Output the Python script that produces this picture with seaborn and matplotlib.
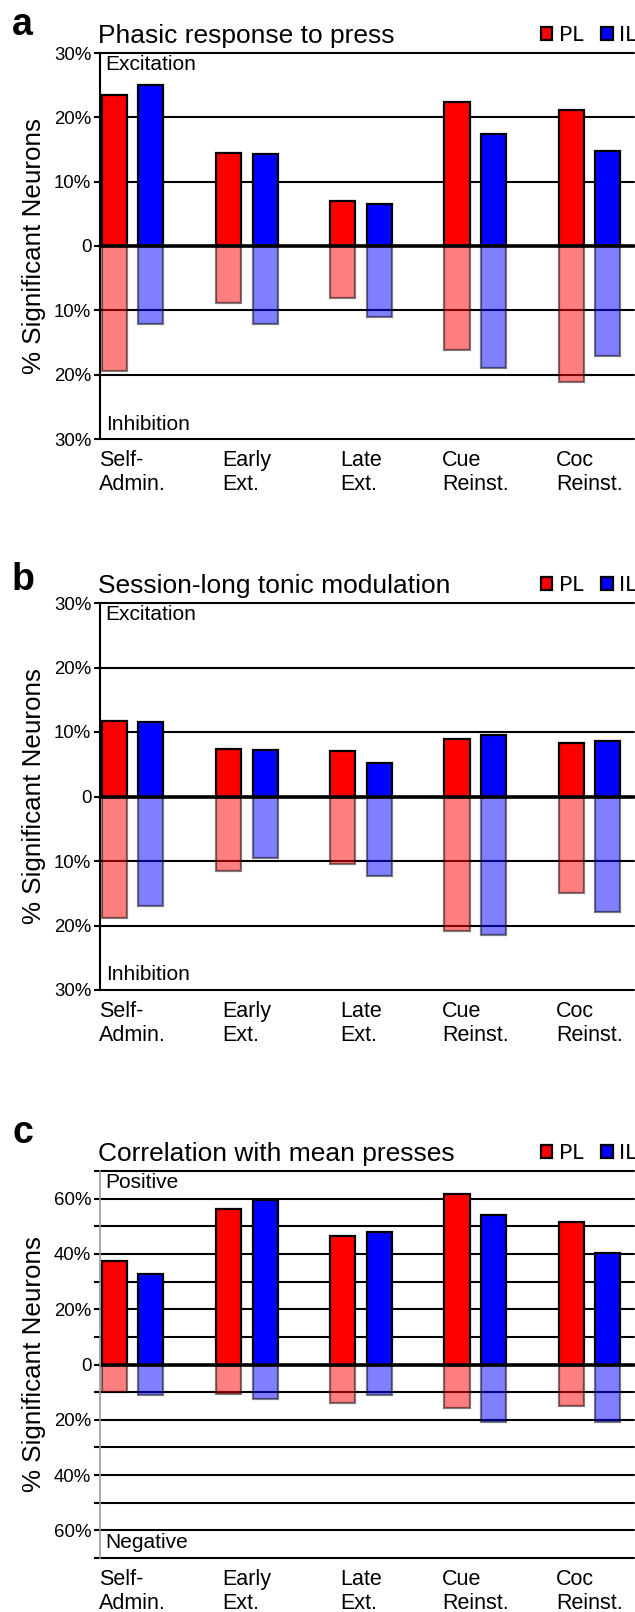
import matplotlib
matplotlib.use("Agg")
import matplotlib.pyplot as plt
from matplotlib.patches import Patch
import pandas as pd
import seaborn as sns

# ---- data (percent of significant neurons) ----
stages = ["Self-\nAdmin.", "Early\nExt.", "Late\nExt.", "Cue\nReinst.", "Coc\nReinst."]
regions = ["PL", "IL"]

phasic_exc_pl = [23.5, 14.4, 7.05, 22.45, 21.15]
phasic_exc_il = [25.0, 14.25, 6.5, 17.4, 14.8]
phasic_inh_pl = [19.4, 8.8, 8.15, 16.2, 21.1]
phasic_inh_il = [12.1, 12.1, 11.0, 19.0, 17.1]

tonic_exc_pl = [11.7, 7.4, 7.05, 8.9, 8.25]
tonic_exc_il = [11.5, 7.2, 5.25, 9.5, 8.65]
tonic_inh_pl = [18.8, 11.5, 10.5, 20.8, 14.9]
tonic_inh_il = [17.0, 9.6, 12.4, 21.5, 17.9]

corr_pos_pl = [37.3, 56.4, 46.4, 61.6, 51.4]
corr_pos_il = [32.8, 59.6, 47.8, 54.2, 40.4]
corr_neg_pl = [9.9, 10.8, 14.0, 15.8, 14.9]
corr_neg_il = [11.2, 12.5, 11.1, 20.7, 20.7]

phasic_ticks = [-30, -20, -10, 0, 10, 20, 30]
phasic_ticklabels = ["30%", "20%", "10%", "0", "10%", "20%", "30%"]
corr_ticks = [-70, -60, -50, -40, -30, -20, -10, 0, 10, 20, 30, 40, 50, 60, 70]
corr_ticklabels = ["", "60%", "", "40%", "", "20%", "", "0", "", "20%", "", "40%", "", "60%", ""]

palette = {"PL": "#FF0000", "IL": "#0000FF"}

sns.set_theme(style="white")
plt.rcParams["font.family"] = ["Liberation Sans", "DejaVu Sans"]
plt.rcParams.update({
    "text.color": "black",
    "axes.labelcolor": "black",
    "xtick.color": "black",
    "ytick.color": "black",
})

W, H = 635, 1612
fig = plt.figure(figsize=(W / 100, H / 100), dpi=100)


def long_frame(pl, il):
    return pd.DataFrame({
        "stage": stages * 2,
        "region": ["PL"] * len(stages) + ["IL"] * len(stages),
        "value": list(pl) + list(il),
    })


def px_rect(left, top, right, bottom):
    return [left / W, 1 - bottom / H, (right - left) / W, (bottom - top) / H]


def draw_panel(top_px, bottom_px, letter, letter_y, title, pos_pl, pos_il, neg_pl, neg_il,
               ylim, ticks, ticklabels, top_word, bottom_word, spine_color):
    ax = fig.add_axes(px_rect(99.7, top_px, 634, bottom_px))

    # horizontal grid lines behind the bars
    for t in ticks:
        ax.axhline(t, color="black", lw=1.5, zorder=1, clip_on=False)
    ax.axhline(0, color="black", lw=2.6, zorder=5, clip_on=False)

    pos = long_frame(pos_pl, pos_il)
    neg = long_frame(neg_pl, neg_il)
    neg["value"] = -neg["value"]

    common = dict(x="stage", y="value", hue="region", order=stages, hue_order=regions,
                  palette=palette, saturation=1, width=0.64, gap=0.31, errorbar=None,
                  legend=False, edgecolor="black", linewidth=1.6, ax=ax)
    sns.barplot(data=pos, zorder=3, **common)
    sns.barplot(data=neg, zorder=3, alpha=0.5, **common)

    ax.set_xlim(-0.288, 4.389)
    ax.set_ylim(*ylim)
    ax.set_yticks(ticks)
    ax.set_yticklabels(ticklabels)
    ax.set_xlabel("")
    ax.set_ylabel("% Significant Neurons", fontsize=18.7, labelpad=6, color="black")

    for side in ("top", "right", "bottom"):
        ax.spines[side].set_visible(False)
    ax.spines["left"].set_color(spine_color)
    ax.spines["left"].set_linewidth(1.5 if spine_color == "black" else 1.2)
    ax.spines["left"].set_zorder(6)

    ax.tick_params(axis="y", left=True, length=4, width=1.5, color="black", pad=2,
                   labelsize=13.4, labelcolor="black")
    ax.tick_params(axis="x", bottom=False, length=0, pad=37, labelsize=15.5, labelcolor="black")
    # anchor every stage label on its baseline so all rows line up
    for lab in ax.get_xticklabels():
        lab.set_multialignment("left")
        lab.set_verticalalignment("baseline")

    ax.annotate(top_word, xy=(0, 1), xycoords="axes fraction", xytext=(6, -12),
                textcoords="offset pixels", ha="left", va="center", fontsize=15, color="black")
    ax.annotate(bottom_word, xy=(0, 0), xycoords="axes fraction", xytext=(6, 15),
                textcoords="offset pixels", ha="left", va="center", fontsize=15, color="black")
    ax.annotate(title, xy=(0, 1), xycoords="axes fraction", xytext=(-2, 10),
                textcoords="offset pixels", ha="left", va="baseline", fontsize=19, color="black")
    fig.text(12 / W, 1 - letter_y / H, letter, fontsize=27, fontweight="bold",
             ha="left", va="baseline", color="black")

    handles = [Patch(facecolor=palette[r], edgecolor="black", linewidth=1.6, label=r)
               for r in regions]
    leg = ax.legend(handles=handles, loc="lower right", bbox_to_anchor=(1.005, 1.02), ncol=2,
                    frameon=False, handlelength=0.5, handleheight=0.5, handletextpad=0.3,
                    columnspacing=0.8, borderpad=0, borderaxespad=0,
                    prop={"family": ["Lato", "DejaVu Sans"], "size": 16})
    for txt in leg.get_texts():
        txt.set_color("black")
    return ax


draw_panel(53, 439, "a", 35, "Phasic response to press",
           phasic_exc_pl, phasic_exc_il, phasic_inh_pl, phasic_inh_il,
           (-30, 30), phasic_ticks, phasic_ticklabels, "Excitation", "Inhibition", "black")
draw_panel(603, 990, "b", 590, "Session-long tonic modulation",
           tonic_exc_pl, tonic_exc_il, tonic_inh_pl, tonic_inh_il,
           (-30, 30), phasic_ticks, phasic_ticklabels, "Excitation", "Inhibition", "black")
draw_panel(1171, 1558, "c", 1143, "Correlation with mean presses",
           corr_pos_pl, corr_pos_il, corr_neg_pl, corr_neg_il,
           (-70, 70), corr_ticks, corr_ticklabels, "Positive", "Negative", "#999999")

fig.savefig("out.png", dpi=100)
